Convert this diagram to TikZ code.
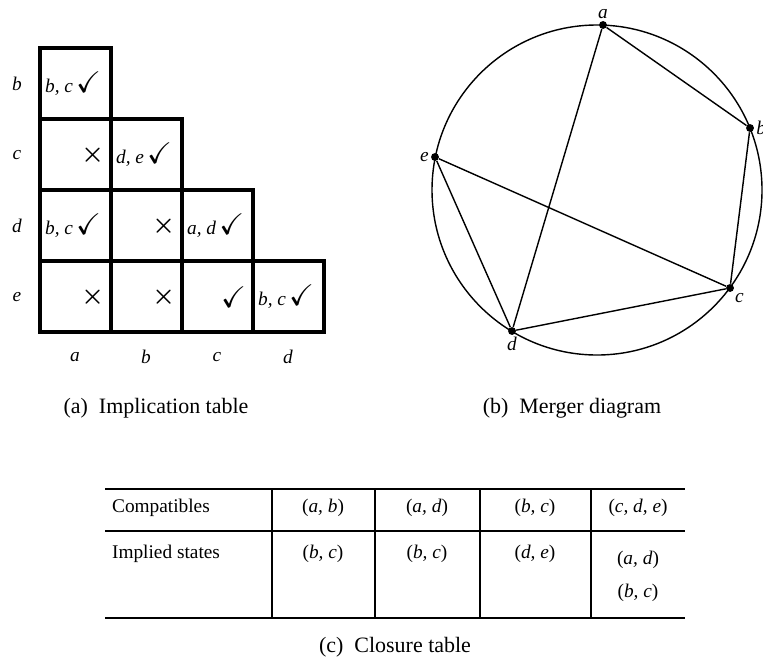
\documentclass[tikz,border=0pt]{standalone}
\usepackage{amsmath}
\usepackage{amssymb}
\usepackage{fontspec}
\setmainfont{Liberation Serif}
\newcommand{\chk}{{\fontsize{17}{17}\selectfont$\boldsymbol{\checkmark}$}}

\begin{document}
\begin{tikzpicture}[x=0.02cm, y=-0.02cm,
    o/.style={line width=2.2pt},
    ke/.style={line width=1pt},
    dinh/.style={circle, fill, inner sep=0pt, minimum size=4.5pt},
    chu/.style={font=\fontsize{11}{13}\selectfont, inner sep=1pt},
    tieude/.style={font=\fontsize{12.5}{14}\selectfont}]
            \useasboundingbox (0,0) rectangle (763,666);
            % Bảng kéo theo
            \foreach \i/\j in {0/0,0/1,1/1,0/2,1/2,2/2,0/3,1/3,2/3,3/3}
                \draw[o] (40+71*\i,48+71*\j) rectangle ++(71,71);
            \foreach \i/\j/\t in {0/0/{b, c},1/1/{d, e},0/2/{b, c},2/2/{a, d},3/3/{b, c}}
                \node[chu, anchor=west] (l\i\j) at (40+71*\i+3, 84+71*\j) {\textit{\t}\,\chk};
            \foreach \i/\j in {0/1,1/2,0/3,1/3}
                \node[chu, anchor=east] (x\i\j) at (40+71*\i+66, 84+71*\j) {\fontsize{15}{15}\selectfont$\boldsymbol{\times}$};
            \node[chu, anchor=east] (l23) at (40+71*2+66, 84+71*3) {\chk};
            \foreach \t [count=\j from 0] in {b,c,d,e}
                \node[chu] (h\t) at (17, 84+71*\j) {\textit{\t}};
            \foreach \t [count=\i from 0] in {a,b,c,d}
                \node[chu] (c\t) at (75+71*\i, 357) {\textit{\t}};
            \node[tieude] (capa) at (156,408) {(a)\ \ Implication table};
            
            % Đồ thị gộp
            \coordinate (O) at (597,190);
            \draw[line width=0.8pt] (O) circle (165);
            \node[dinh, label={[chu]above:\textit{a}}] (a) at (603,25) {};
            \node[dinh, label={[chu]right:\textit{b}}] (b) at (750,128) {};
            \node[dinh, label={[chu]below right:\textit{c}}] (c) at (730,288) {};
            \node[dinh, label={[chu]below:\textit{d}}] (d) at (512,331) {};
            \node[dinh, label={[chu]left:\textit{e}}] (e) at (435,157) {};
            \foreach \u/\v in {a/b,a/d,b/c,c/d,c/e,d/e}
                \draw[line width=0.8pt] (\u) -- (\v);
            \node[tieude] (capb) at (572,408) {(b)\ \ Merger diagram};
            
            % Bảng đóng
            \draw[ke] (105,489) -- (685,489);
            \draw[ke] (105,531) -- (685,531);
            \draw[ke] (105,618) -- (685,618);
            \foreach \x in {272,375,480,591}
                \draw[ke] (\x,489) -- (\x,618);
            \node[chu, anchor=west] (t1) at (110,508) {Compatibles};
            \node[chu, anchor=west] (t2) at (110,554) {Implied states};
            \foreach \x/\t in {323/{a, b},427/{a, d},535/{b, c},638/{c, d, e}}
                \node[chu] at (\x,508) {(\textit{\t})};
            \foreach \x/\t in {323/{b, c},427/{b, c},535/{d, e}}
                \node[chu] at (\x,554) {(\textit{\t})};
            \node[chu] (t3) at (638,560) {(\textit{a, d})};
            \node[chu] (t4) at (638,593) {(\textit{b, c})};
            \node[tieude] (capc) at (395,647) {(c)\ \ Closure table};
\end{tikzpicture}
\end{document}
